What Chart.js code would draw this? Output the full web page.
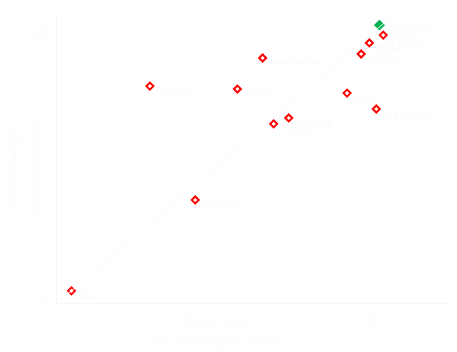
<!DOCTYPE html>
<html>
<head>
<meta charset="utf-8">
<script src="https://cdn.jsdelivr.net/npm/chart.js@4/dist/chart.umd.min.js"></script>
<style>
  html, body { margin: 0; padding: 0; background: #ffffff; }
  #wrap { width: 457px; height: 352px; }
</style>
</head>
<body>
<div id="wrap"><canvas id="chart"></canvas></div>
<script>
// values
var brands = ["Kia", "Toyota", "Nissan", "Ford", "Mercedes", "Tesla", "Honda", "Audi", "Volvo", "BMW", "Hyundai", "Lexus"];
var brandValue = [4.8, 29.7, 44.1, 57.5, 65.5, 69.0, 73.8, 92.3, 96.8, 99.4, 101.6, 103.8];
var brandScore = [4.8, 80.7, 38.5, 79.6, 91.1, 66.7, 68.9, 78.1, 92.6, 96.7, 72.2, 99.6];
var leaderName = ["Porsche"];
var leaderValue = [102.6];
var leaderScore = [103.3];
var diagonal = [0, 120];
var tickValues = [0, 100];
var xTitle = ["Brand Value", "(% of enterprise value)"];
var yTitle = ["Brand Strength", "(score out of 100)"];

var faint = "#fbfbfb";

var redPoints = [];
for (var i = 0; i < brands.length; i++) {
  redPoints.push({ x: brandValue[i], y: brandScore[i], name: brands[i] });
}
var greenPoints = [];
for (var j = 0; j < leaderName.length; j++) {
  greenPoints.push({ x: leaderValue[j], y: leaderScore[j], name: leaderName[j] });
}
var linePoints = [];
for (var k = 0; k < diagonal.length; k++) {
  linePoints.push({ x: diagonal[k], y: diagonal[k] });
}

// near-white names beside each marker, plus the axis titles
var textLayer = {
  id: 'textLayer',
  afterDatasetsDraw: function (chart) {
    var ctx = chart.ctx;
    var area = chart.chartArea;
    ctx.save();
    ctx.font = "11px 'DejaVu Sans'";
    ctx.fillStyle = faint;
    ctx.textBaseline = 'middle';
    [1, 2].forEach(function (d) {
      var meta = chart.getDatasetMeta(d);
      meta.data.forEach(function (el, idx) {
        var p = chart.data.datasets[d].data[idx];
        ctx.fillText(p.name, el.x + 8, el.y + 6);
      });
    });

    ctx.textAlign = 'center';
    ctx.fillText(xTitle[0], 217, 322);
    ctx.fillText(xTitle[1], 217, 343);

    var midY = (area.top + area.bottom) / 2 + 8;
    ctx.translate(15, midY);
    ctx.rotate(-Math.PI / 2);
    ctx.fillText(yTitle[0], 0, 0);
    ctx.fillText(yTitle[1], 0, 22);
    ctx.restore();
  }
};

function onlyTicks(scale) {
  scale.ticks = tickValues.map(function (v) { return { value: v }; });
}

new Chart(document.getElementById('chart'), {
  type: 'scatter',
  data: {
    datasets: [{
      type: 'line',
      data: linePoints,
      borderColor: "#f9f9f9",
      borderWidth: 1,
      pointRadius: 0,
      fill: false
    }, {
      data: redPoints,
      pointStyle: 'rectRot',
      pointRadius: 3.5,
      backgroundColor: '#ffffff',
      borderColor: '#ff0000',
      borderWidth: 2
    }, {
      data: greenPoints,
      pointStyle: 'rectRot',
      pointRadius: 5,
      backgroundColor: '#00b050',
      borderColor: '#00b050',
      borderWidth: 1
    }]
  },
  options: {
    responsive: true,
    maintainAspectRatio: false,
    animation: false,
    layout: { padding: { top: -5, right: 7, left: 22, bottom: 11 } },
    plugins: {
      legend: { display: false },
      tooltip: { enabled: false }
    },
    scales: {
      x: {
        type: 'linear',
        min: 0,
        max: 125,
        afterBuildTicks: onlyTicks,
        grid: { display: false, drawTicks: false },
        border: { color: "#f7f7f7" },
        ticks: { color: faint, font: { size: 11 }, padding: 12 }
      },
      y: {
        type: 'linear',
        min: 0,
        max: 107.2,
        afterBuildTicks: onlyTicks,
        grid: { display: false, drawTicks: false },
        border: { color: "#f6f6f6" },
        ticks: { color: faint, font: { size: 11 }, padding: 8 }
      }
    }
  },
  plugins: [textLayer]
});
</script>
</body>
</html>
